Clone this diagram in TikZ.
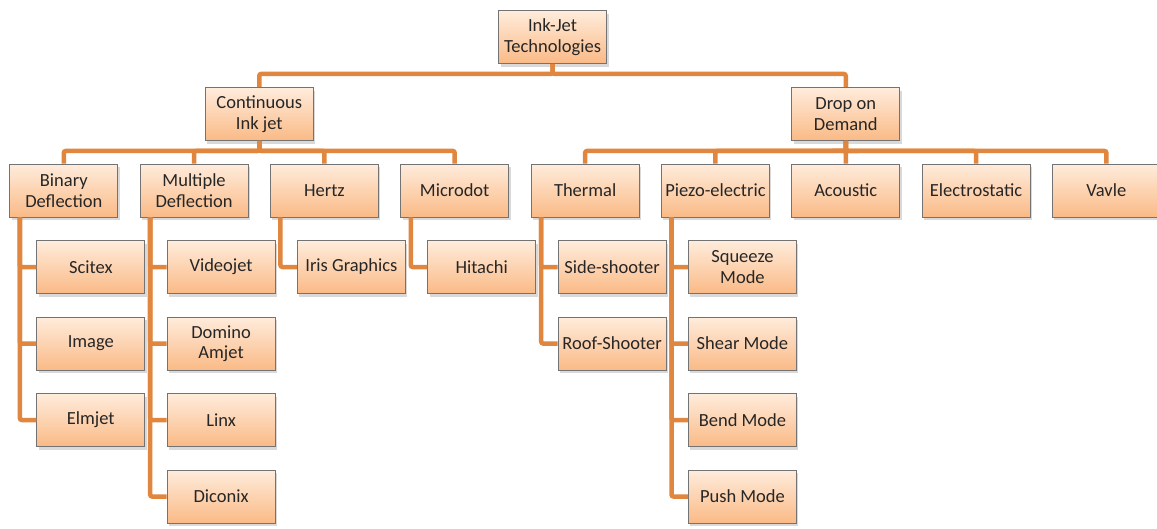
\documentclass[tikz,border=0pt]{standalone}
\usepackage{fontspec}
\setmainfont{Carlito}
\usetikzlibrary{trees,shadows}

\definecolor{branchorange}{RGB}{224,134,62}
\definecolor{peachtop}{RGB}{255,236,220}
\definecolor{peachbottom}{RGB}{250,186,134}
\definecolor{boxborder}{RGB}{115,115,115}

\begin{document}
\begin{tikzpicture}[x=1pt, y=1pt,
    level 1/.style={sibling distance=586.5pt, level distance=77pt},
    level 2/.style={sibling distance=130.3pt, level distance=76.5pt},
    level 3/.style={grow via three points={one child at (27,-76.5) and two children at (27,-76.5) and (27,-153)},
        edge from parent path={([xshift=10.5pt]\tikzparentnode.south west) |- (\tikzchildnode.west)}},
    every node/.style={draw=boxborder, line width=0.9pt, top color=peachtop, bottom color=peachbottom,
        minimum width=108pt, minimum height=53pt, inner sep=2pt, align=center, text=black!85,
        font=\fontsize{18.5}{20.5}\selectfont,
        drop shadow={shadow xshift=2pt, shadow yshift=-3pt, opacity=0.3}},
    edge from parent/.style={draw=branchorange, line width=4.5pt, rounded corners=2pt},
    edge from parent path={(\tikzparentnode.south) -- ++(0,-10) -| (\tikzchildnode.north)}
]
\useasboundingbox (0,0) rectangle (1157,-528);

\node (inkjet) at (552.5,-37) {Ink-Jet\\Technologies}
    child { node (cij) {Continuous\\Ink jet}
        child { node (binary) {Binary\\Deflection}
            child { node (scitex) {Scitex} }
            child { node (image) {Image} }
            child { node (elmjet) {Elmjet} }
        }
        child { node (multiple) {Multiple\\Deflection}
            child { node (videojet) {Videojet} }
            child { node (domino) {Domino\\Amjet} }
            child { node (linx) {Linx} }
            child { node (diconix) {Diconix} }
        }
        child { node (hertz) {Hertz}
            child { node (iris) {Iris Graphics} }
        }
        child { node (microdot) {Microdot}
            child { node (hitachi) {Hitachi} }
        }
    }
    child { node (dod) {Drop on\\Demand}
        child { node (thermal) {Thermal}
            child { node (side) {Side-shooter} }
            child { node (roof) {Roof-Shooter} }
        }
        child { node (piezo) {Piezo-electric}
            child { node (squeeze) {Squeeze\\Mode} }
            child { node (shear) {Shear Mode} }
            child { node (bend) {Bend Mode} }
            child { node (push) {Push Mode} }
        }
        child { node (acoustic) {Acoustic} }
        child { node (electrostatic) {Electrostatic} }
        child { node (valve) {Vavle} }
    };

\end{tikzpicture}
\end{document}
